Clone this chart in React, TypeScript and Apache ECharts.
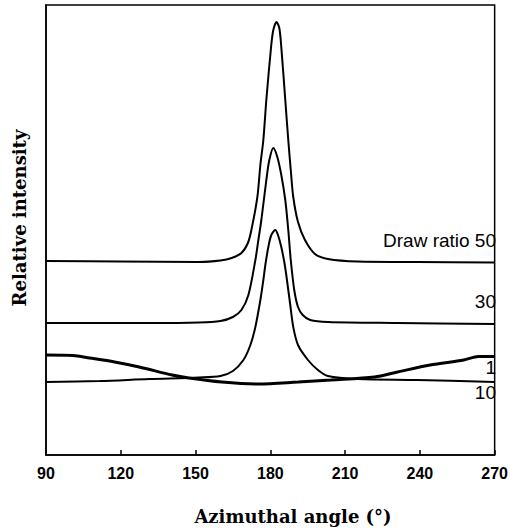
import React, { useEffect, useRef } from "react";
import * as echarts from "echarts";

// Azimuthal angle (deg) and relative intensity (arbitrary units)
const angles50 = [90, 119.5, 151.3, 160, 164.5, 168.4, 171, 172.4, 174.8, 176.0, 177.2, 178.4, 180.3, 181.2, 182.5, 183.6, 184.4, 186.0, 187.2, 188.2, 189.2, 191.1, 193.9, 197.9, 203.1, 215, 238.9, 270];
const values50 = [194, 193.5, 193, 194.5, 197, 202, 212, 225, 258, 290, 315, 355, 408, 425, 433, 427, 408, 355, 315, 285, 258, 233, 215, 201, 196, 193.5, 193, 192.5];

const angles30 = [90, 131.4, 151.3, 160, 165, 168.4, 171.2, 174.0, 175.2, 176.4, 178.4, 179.6, 181.2, 182.8, 184.4, 186.0, 187.2, 188.2, 189.6, 191.1, 193, 196, 203.1, 231, 270];
const values30 = [132, 132, 132.5, 134, 138, 145, 160, 195, 215, 235, 275, 295, 307, 298, 280, 255, 225, 195, 165, 148, 140, 135, 133, 132, 131];

const angles10 = [90, 111.5, 131.4, 151.3, 160, 165, 169.2, 172.0, 174.0, 176.0, 177.2, 178.0, 179.2, 180.4, 182.0, 183.2, 184.4, 185.6, 186.4, 188.0, 189.2, 191.1, 195.1, 199.1, 203.1, 215, 238.9, 270];
const values10 = [73, 74, 76, 77.5, 79, 84, 95, 110, 128, 155, 175, 190, 208, 220, 225, 219, 208, 193, 180, 150, 128, 110, 95, 85, 79, 76, 75, 73];

const angles1 = [90, 100.8, 107.5, 117.5, 127.4, 140.6, 147.3, 160.5, 175.2, 191.1, 204.3, 221.8, 231, 244.1, 257.6, 263.5, 270];
const values1 = [100, 99.5, 97, 93, 88, 80, 77, 73, 71, 73, 75, 78, 83, 90, 95, 98.5, 98.5];

const xTicks = { min: 90, max: 270, interval: 30 };
const curveLabels = [
  { text: "Draw ratio 50", y: 241 },
  { text: "30", y: 302 },
  { text: "1", y: 368 },
  { text: "10", y: 393 },
];

const pairs = (xs: number[], ys: number[]) => xs.map((x, i) => [x, ys[i]]);

export default function App() {
  const ref = useRef<HTMLDivElement>(null);
  useEffect(() => {
    if (!ref.current) return;
    const chart = echarts.init(ref.current, null, { renderer: "svg" });
    const lineSeries = (name: string, data: number[][], width: number) => ({
      name,
      type: "line",
      data,
      showSymbol: false,
      smooth: 0.3,
      lineStyle: { color: "#000", width },
      z: 3,
    });
    chart.setOption({
      animation: false,
      backgroundColor: "#fff",
      grid: {
        left: 46,
        right: 13,
        top: 5,
        bottom: 73,
        show: true,
        borderColor: "#000",
        borderWidth: 1.5,
      },
      xAxis: {
        type: "value",
        min: xTicks.min,
        max: xTicks.max,
        interval: xTicks.interval,
        axisLine: { lineStyle: { color: "#000", width: 1.5 } },
        axisTick: { inside: true, length: 5, lineStyle: { color: "#000", width: 1.5 } },
        axisLabel: { fontFamily: "Liberation Sans", fontWeight: "bold", fontSize: 16, color: "#000", margin: 10 },
        splitLine: { show: false },
      },
      yAxis: {
        type: "value",
        min: 0,
        max: 450,
        axisLine: { show: true, lineStyle: { color: "#000", width: 1.5 } },
        axisTick: { show: false },
        axisLabel: { show: false },
        splitLine: { show: false },
      },
      graphic: [
        ...curveLabels.map((l) => ({
          type: "text",
          right: 15,
          top: l.y - 10,
          style: { text: l.text, fontFamily: "Liberation Sans", fontSize: 19, fill: "#000" },
        })),
        {
          type: "text",
          x: 293,
          y: 516,
          style: {
            text: "Azimuthal angle (°)",
            fontFamily: "DejaVu Serif",
            fontWeight: "bold",
            fontSize: 18,
            fill: "#000",
            align: "center",
            verticalAlign: "middle",
          },
        },
        {
          type: "text",
          x: 19,
          y: 218,
          rotation: Math.PI / 2,
          style: {
            text: "Relative intensity",
            fontFamily: "DejaVu Serif",
            fontWeight: "bold",
            fontSize: 18,
            fill: "#000",
            align: "center",
            verticalAlign: "middle",
          },
        },
      ],
      series: [
        lineSeries("50", pairs(angles50, values50), 2),
        lineSeries("30", pairs(angles30, values30), 2),
        lineSeries("10", pairs(angles10, values10), 2),
        lineSeries("1", pairs(angles1, values1), 3),
      ],
    });
    return () => chart.dispose();
  }, []);
  return <div ref={ref} style={{ position: "fixed", left: 0, top: 0, width: 511, height: 528 }} />;
}
